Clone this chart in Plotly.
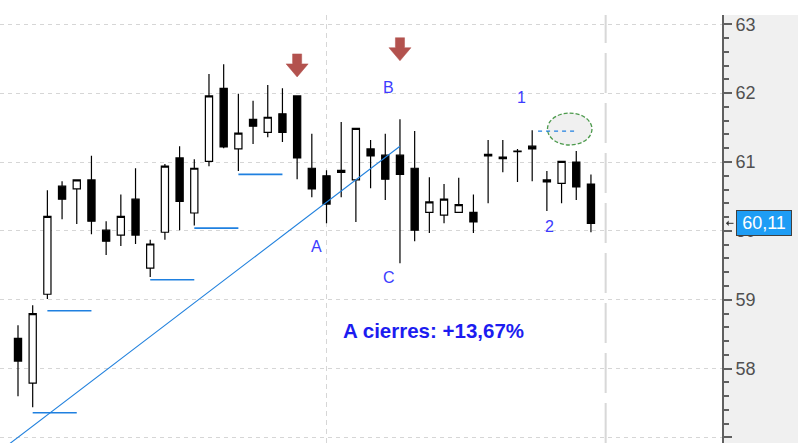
import plotly.graph_objects as go

# ---- data ----
idx = list(range(40))
opens = [58.44, 57.79, 59.08, 60.65, 60.61, 60.74, 60.01, 59.94, 60.46, 59.46,
         59.98, 61.06, 60.26, 61.01, 62.07, 61.19, 61.62, 61.43, 61.70, 61.96,
         60.91, 60.80, 60.88, 60.74, 61.19, 61.10, 61.10, 60.91, 60.27, 60.23,
         60.27, 60.27, 61.11, 61.07, 61.16, 61.23, 60.74, 60.69, 61.00, 60.68]
highs = [58.63, 58.92, 60.59, 60.72, 60.74, 61.09, 60.14, 60.53, 60.91, 59.87,
         60.97, 61.23, 61.04, 62.28, 62.42, 61.99, 61.89, 62.12, 62.07, 61.97,
         61.41, 60.88, 61.58, 61.49, 61.32, 61.41, 61.62, 61.45, 60.78, 60.68,
         60.77, 60.53, 61.32, 61.32, 61.19, 61.46, 60.87, 61.01, 61.16, 60.82]
lows = [57.60, 57.44, 59.01, 60.17, 60.10, 59.95, 59.65, 59.78, 59.81, 59.33,
        59.87, 60.01, 60.08, 60.94, 61.20, 60.87, 61.26, 61.36, 61.29, 60.75,
        60.49, 60.11, 60.49, 60.13, 60.62, 60.45, 59.53, 59.85, 59.97, 60.11,
        60.27, 59.97, 60.40, 60.85, 60.71, 60.72, 60.29, 60.40, 60.45, 59.98]
closes = [58.11, 58.80, 60.21, 60.46, 60.74, 60.14, 59.85, 60.21, 59.94, 59.81,
          60.94, 60.43, 60.91, 61.96, 61.22, 61.42, 61.52, 61.65, 61.43, 61.06,
          60.61, 60.39, 60.85, 61.49, 61.09, 60.75, 60.82, 60.01, 60.42, 60.46,
          60.38, 60.13, 61.09, 61.05, 61.15, 61.19, 60.71, 61.01, 60.64, 60.11]

# short support lines (start index, end index, level)
sup_x0 = [1, 2, 9, 12, 15]
sup_x1 = [4, 5, 12, 15, 18]
sup_y = [57.36, 58.84, 59.29, 60.04, 60.82]

# trend line
trend_x = [-1, 26]
trend_y = [56.84, 61.23]

# resistance dashed line near the circle
res_x = [35.4, 38.1]
res_y = [61.45, 61.45]

# letter labels
lab_text = ["A", "B", "C", "1", "2"]
lab_x = [20.3, 25.25, 25.25, 34.25, 36.2]
lab_y = [59.77, 62.08, 59.33, 61.93, 60.06]

# down arrows (index, tip value)
arrow_x = [19, 26]
arrow_tip = [62.235, 62.47]

last_price = 60.11
last_label = "60,11"
note_text = "A cierres: +13,67%"

y_ticks = [57, 58, 59, 60, 61, 62, 63]

# ---- figure ----
fig = go.Figure()

fig.add_trace(go.Candlestick(
    x=idx, open=opens, high=highs, low=lows, close=closes,
    increasing=dict(line=dict(color="black", width=1.2), fillcolor="white"),
    decreasing=dict(line=dict(color="black", width=1.2), fillcolor="black"),
    whiskerwidth=0, hoverinfo="skip", showlegend=False,
))

for a, b, v in zip(sup_x0, sup_x1, sup_y):
    fig.add_trace(go.Scatter(x=[a, b], y=[v, v], mode="lines",
                             line=dict(color="#1f80e0", width=1.6),
                             hoverinfo="skip", showlegend=False))

fig.add_trace(go.Scatter(x=trend_x, y=trend_y, mode="lines",
                         line=dict(color="#2080dd", width=1.1),
                         hoverinfo="skip", showlegend=False))

shapes = []
# right gray panel
shapes.append(dict(type="rect", xref="paper", yref="paper", x0=1, x1=1.2, y0=0, y1=1,
                   fillcolor="#f0f0f0", line=dict(width=0), layer="below"))
# vertical dashed grid
shapes.append(dict(type="line", xref="x", yref="paper", x0=21, x1=21, y0=0, y1=1,
                   line=dict(color="#d6d6d6", width=1, dash="5px,4px"), layer="below"))
# long dashed separator
shapes.append(dict(type="line", xref="x", yref="paper", x0=40, x1=40, y0=0, y1=1,
                   line=dict(color="#d8d8d8", width=2, dash="40px,10px"), layer="below"))
# ellipse
shapes.append(dict(type="circle", xref="x", yref="y", x0=36.04, x1=39.07, y0=61.247, y1=61.711,
                   fillcolor="#f0f0f0", layer="between",
                   line=dict(color="#4c9a4c", width=1.3, dash="4px,2px")))

# down arrows
hw, sw = 0.75, 0.31  # half widths in index units
hh, sh = 0.19, 0.145  # head/stem heights in value units
for ax, tip in zip(arrow_x, arrow_tip):
    p = (f"M {ax - sw} {tip + hh + sh} L {ax + sw} {tip + hh + sh} L {ax + sw} {tip + hh} "
         f"L {ax + hw} {tip + hh} L {ax} {tip} L {ax - hw} {tip + hh} L {ax - sw} {tip + hh} Z")
    shapes.append(dict(type="path", xref="x", yref="y", path=p,
                       fillcolor="#b3524e", line=dict(color="#b3524e", width=0.5)))

fig.add_trace(go.Scatter(x=res_x, y=res_y, mode="lines",
                         line=dict(color="#2080e0", width=1.3, dash="4px,4px"),
                         hoverinfo="skip", showlegend=False))

annotations = []
for t, x, y in zip(lab_text, lab_x, lab_y):
    annotations.append(dict(x=x, y=y, xref="x", yref="y", text=t, showarrow=False,
                            font=dict(family="Liberation Sans", size=16, color="#3c3cff")))
annotations.append(dict(x=28.25, y=58.547, xref="x", yref="y", text=f"<b>{note_text}</b>",
                        showarrow=False,
                        font=dict(family="Liberation Sans", size=20.5, color="#1c1cf0")))
annotations.append(dict(x=1 + (764 - 722) / 722, y=last_price, xref="paper", yref="y",
                        xanchor="center", yanchor="middle", width=50,
                        text=last_label, showarrow=False, bgcolor="#1e9df5",
                        bordercolor="#404040", borderwidth=1, borderpad=2,
                        font=dict(family="Liberation Sans", size=18, color="white")))
# small pointer arrow toward the axis
annotations.append(dict(x=1 + (726 - 722) / 722, y=last_price, xref="paper", yref="y",
                        text="", showarrow=True, ax=9, ay=0, arrowhead=1,
                        arrowsize=0.9, arrowwidth=1, arrowcolor="#333333"))

fig.update_layout(
    width=798, height=443,
    margin=dict(l=0, r=76, t=15, b=0),
    paper_bgcolor="white", plot_bgcolor="white",
    shapes=shapes, annotations=annotations,
    xaxis=dict(range=[-1.225, 47.92], showgrid=False, zeroline=False,
               showticklabels=False, showline=False, rangeslider=dict(visible=False),
               fixedrange=True),
    yaxis=dict(range=[56.92, 63.135], side="right", tickvals=y_ticks,
               ticktext=[str(v) for v in y_ticks],
               ticks="outside", ticklen=8, tickwidth=1.5, tickcolor="#606060",
               showline=True, linecolor="#606060", linewidth=2,
               showgrid=True, gridcolor="#d6d6d6", griddash="4px,4px", gridwidth=1,
               zeroline=False,
               minor=dict(dtick=0.2, ticks="outside", ticklen=5, tickcolor="#606060",
                          showgrid=False),
               tickfont=dict(family="Liberation Sans", size=18, color="#505050"),
               fixedrange=True),
)

fig.write_html("out.html", config={"displayModeBar": False},
               post_script="document.body.style.margin='0px';")
